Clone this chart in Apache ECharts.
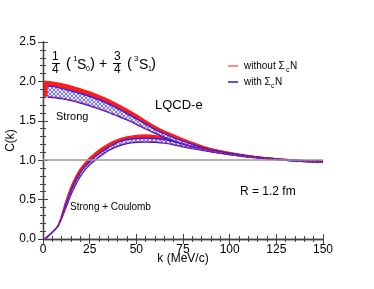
<!DOCTYPE html>
<html><head><meta charset="utf-8">
<script src="https://cdn.jsdelivr.net/npm/echarts@6/dist/echarts.min.js"></script>
<style>html,body{margin:0;padding:0;background:#fff}#c{width:374px;height:289px}</style>
</head><body><div id="c"></div>
<script>
// ---- data ----
const xTicks = [0, 25, 50, 75, 100, 125, 150];
const yTicks = [0.0, 0.5, 1.0, 1.5, 2.0, 2.5];

const kStrongRed  = [0.5, 5, 10, 15, 20, 25, 30, 35, 40, 45, 50, 55, 60, 65, 70, 75, 80, 90, 100, 110, 120, 130, 140, 150];
const strongRedHigh = [2.00, 1.99, 1.97, 1.94, 1.905, 1.866, 1.82, 1.77, 1.71, 1.645, 1.575, 1.50, 1.43, 1.37, 1.32, 1.27, 1.225, 1.145, 1.095, 1.058, 1.03, 1.01, 0.995, 0.99];
const strongRedLow  = [1.81, 1.805, 1.79, 1.765, 1.735, 1.70, 1.66, 1.615, 1.57, 1.52, 1.465, 1.405, 1.35, 1.30, 1.255, 1.215, 1.18, 1.118, 1.075, 1.045, 1.022, 1.002, 0.986, 0.972];

const kStrongBlue = [2.5, 5, 10, 15, 20, 25, 30, 35, 40, 45, 50, 55, 60, 65, 70, 75, 80, 90, 100, 110, 120, 130, 140, 150];
const strongBlueHigh = [1.94, 1.935, 1.91, 1.88, 1.845, 1.81, 1.765, 1.715, 1.655, 1.59, 1.525, 1.455, 1.39, 1.335, 1.285, 1.24, 1.20, 1.13, 1.087, 1.053, 1.027, 1.007, 0.991, 0.984];
const strongBlueLow  = [1.80, 1.795, 1.78, 1.755, 1.725, 1.69, 1.65, 1.605, 1.56, 1.51, 1.455, 1.395, 1.34, 1.29, 1.245, 1.205, 1.17, 1.11, 1.07, 1.04, 1.018, 0.998, 0.982, 0.975];

const kCoul = [1, 8, 12, 15, 18, 20, 22, 25, 28, 30, 35, 40, 45, 50, 55, 60, 65, 70, 75, 80, 90, 100, 110, 120, 130, 140, 150];
const coulRedHigh  = [0.0, 0.17, 0.46, 0.66, 0.81, 0.89, 0.95, 1.03, 1.09, 1.13, 1.205, 1.26, 1.295, 1.315, 1.32, 1.31, 1.29, 1.26, 1.225, 1.19, 1.14, 1.095, 1.058, 1.03, 1.01, 0.995, 0.99];
const coulRedLow   = [0.0, 0.165, 0.39, 0.57, 0.72, 0.80, 0.87, 0.95, 1.01, 1.05, 1.13, 1.185, 1.22, 1.235, 1.24, 1.235, 1.225, 1.205, 1.18, 1.155, 1.113, 1.075, 1.045, 1.022, 1.002, 0.986, 0.972];
const coulBlueHigh = [0.0, 0.165, 0.42, 0.61, 0.76, 0.84, 0.905, 0.98, 1.045, 1.08, 1.16, 1.225, 1.26, 1.275, 1.28, 1.275, 1.26, 1.235, 1.205, 1.175, 1.128, 1.087, 1.053, 1.027, 1.007, 0.991, 0.984];
const coulBlueLow  = [0.0, 0.16, 0.38, 0.56, 0.71, 0.79, 0.86, 0.94, 1.0, 1.04, 1.12, 1.175, 1.21, 1.225, 1.23, 1.225, 1.215, 1.195, 1.17, 1.145, 1.105, 1.07, 1.04, 1.018, 0.998, 0.982, 0.975];

const baseline = 1.0;

// ---- styling ----
const FONT = '"Liberation Sans", Arial, Helvetica, sans-serif';
const RED = '#ff1a1a', BLUE = '#1a1aff';

const pc = document.createElement('canvas'); pc.width = 4; pc.height = 4;
const g = pc.getContext('2d');
g.fillStyle = '#ececff'; g.fillRect(0, 0, 4, 4);
g.fillStyle = 'rgba(60,60,255,0.65)';
for (let i = 0; i < 4; i++) { g.fillRect(i, i, 1, 1); g.fillRect(3 - i, i, 1, 1); }
const hatch = { image: pc, repeat: 'repeat' };

// Catmull-Rom -> cubic bezier path segments through pixel points
function curvePath(pts, move) {
  let d = (move ? 'M' : 'L') + pts[0][0].toFixed(2) + ' ' + pts[0][1].toFixed(2);
  const t = 0.8;
  for (let i = 0; i < pts.length - 1; i++) {
    const p0 = pts[Math.max(i - 1, 0)], p1 = pts[i], p2 = pts[i + 1], p3 = pts[Math.min(i + 2, pts.length - 1)];
    const c1 = [p1[0] + (p2[0] - p0[0]) * t / 6, p1[1] + (p2[1] - p0[1]) * t / 6];
    const c2 = [p2[0] - (p3[0] - p1[0]) * t / 6, p2[1] - (p3[1] - p1[1]) * t / 6];
    d += ' C' + c1.map(v => v.toFixed(2)).join(' ') + ' ' + c2.map(v => v.toFixed(2)).join(' ') + ' ' + p2.map(v => v.toFixed(2)).join(' ');
  }
  return d;
}

function bandSeries(name, ks, lo, hi, opt) {
  return {
    type: 'custom', name: name, silent: true, z: opt.z,
    data: ks.map((k, i) => [k, lo[i], hi[i]]),
    encode: { x: 0, y: [1, 2] },
    renderItem: function (params, api) {
      if (params.dataIndex !== 0) return null;
      const up = ks.map((k, i) => api.coord([k, hi[i]]));
      const dn = ks.map((k, i) => api.coord([k, lo[i]]));
      const dnRev = dn.slice().reverse();
      const fillPath = curvePath(up, true) + ' ' + curvePath(dnRev, false) + ' Z';
      const children = [
        { type: 'path', shape: { pathData: fillPath }, style: { fill: opt.fill, stroke: null } },
        { type: 'path', shape: { pathData: curvePath(up, true) }, style: Object.assign({ fill: null }, opt.highLine) },
        { type: 'path', shape: { pathData: curvePath(dn, true) }, style: Object.assign({ fill: null }, opt.lowLine), z2: 5 }
      ];
      return { type: 'group', children: children };
    }
  };
}

const series = [
  bandSeries('strongRed', kStrongRed, strongRedLow, strongRedHigh, { z: 2, fill: RED,
    highLine: { stroke: RED, lineWidth: 1.4 }, lowLine: { stroke: 'rgba(0,0,0,0)', lineWidth: 0 } }),
  bandSeries('coulRed', kCoul, coulRedLow, coulRedHigh, { z: 2, fill: RED,
    highLine: { stroke: RED, lineWidth: 1.4 }, lowLine: { stroke: 'rgba(0,0,0,0)', lineWidth: 0 } }),
  bandSeries('strongBlue', kStrongBlue, strongBlueLow, strongBlueHigh, { z: 3, fill: hatch,
    highLine: { stroke: BLUE, lineWidth: 1.2 }, lowLine: { stroke: BLUE, lineWidth: 1.2 } }),
  bandSeries('coulBlue', kCoul, coulBlueLow, coulBlueHigh, { z: 3, fill: hatch,
    highLine: { stroke: BLUE, lineWidth: 1.2 }, lowLine: { stroke: BLUE, lineWidth: 1.2 } }),
  bandSeries('strongRedEdge', kStrongRed, strongRedLow, strongRedLow, { z: 4, fill: null,
    highLine: { stroke: RED, lineWidth: 1, lineDash: [3, 2] }, lowLine: { stroke: 'rgba(0,0,0,0)', lineWidth: 0 } }),
  bandSeries('coulRedEdge', kCoul, coulRedLow, coulRedLow, { z: 4, fill: null,
    highLine: { stroke: RED, lineWidth: 1, lineDash: [3, 2] }, lowLine: { stroke: 'rgba(0,0,0,0)', lineWidth: 0 } }),
  { type: 'line', data: [], z: 1, silent: true,
    markLine: { symbol: 'none', silent: true, label: { show: false }, animation: false,
      lineStyle: { color: '#999999', width: 1.5, type: 'solid' }, data: [{ yAxis: baseline }] } }
];

const axisCommon = {
  axisLine: { show: true, lineStyle: { color: '#444', width: 1.3 } },
  axisTick: { show: true, inside: true, length: 5, lineStyle: { color: '#444', width: 1 } },
  minorTick: { show: true, splitNumber: 5, length: 3, lineStyle: { color: '#444', width: 1 } },
  splitLine: { show: false }
};

const chart = echarts.init(document.getElementById('c'), null, { renderer: 'canvas' });
const T = (text, left, top, size) => ({ type: 'text', left: left, top: top, z: 100,
  style: { text: text, font: size + 'px ' + FONT, fill: '#000' } });
chart.setOption({
  animation: false,
  backgroundColor: '#fff',
  grid: { left: 43, right: 51, top: 42, bottom: 50, containLabel: false, outerBoundsMode: 'none' },
  xAxis: [
    Object.assign({ type: 'value', min: xTicks[0], max: xTicks[xTicks.length - 1], interval: 25,
      axisLabel: { color: '#000', fontSize: 12, fontFamily: FONT, margin: 5 },
      name: 'k (MeV/c)', nameLocation: 'middle', nameGap: 14, nameMoveOverlap: false,
      nameTextStyle: { color: '#000', fontSize: 12, fontFamily: FONT, verticalAlign: 'top' } }, axisCommon),
    Object.assign({ type: 'value', position: 'top', min: 0, max: 150, interval: 25, axisLabel: { show: false } }, axisCommon)
  ],
  yAxis: [
    Object.assign({ type: 'value', min: yTicks[0], max: yTicks[yTicks.length - 1], interval: 0.5,
      axisLabel: { color: '#000', fontSize: 12, fontFamily: FONT, margin: 7, formatter: v => v.toFixed(1) },
      name: 'C(k)', nameLocation: 'middle', nameGap: 26, nameMoveOverlap: false,
      nameTextStyle: { color: '#000', fontSize: 12, fontFamily: FONT } }, axisCommon),
    Object.assign({ type: 'value', position: 'right', min: 0, max: 2.5, interval: 0.5, axisLabel: { show: false } }, axisCommon)
  ],
  series: series,
  graphic: [
    T('1', 52, 51, 12), { type: 'rect', z: 100, shape: { x: 52, y: 63, width: 8, height: 1 }, style: { fill: '#000' } }, T('4', 52, 64, 12),
    T('(', 66, 56, 15), T('1', 73, 55, 8), T('S', 77, 58, 14), T('0', 86, 66, 7), T(')', 90, 56, 15),
    T('+', 99, 57, 14),
    T('3', 114, 51, 12), { type: 'rect', z: 100, shape: { x: 113, y: 63, width: 8, height: 1 }, style: { fill: '#000' } }, T('4', 114, 64, 12),
    T('(', 127, 56, 15), T('3', 134, 55, 8), T('S', 139, 58, 14), T('1', 148, 66, 7), T(')', 151, 56, 15),
    // legend
    { type: 'line', z: 100, shape: { x1: 228, y1: 66, x2: 238, y2: 66 }, style: { stroke: RED, lineWidth: 1 } },
    T('without Σ', 244, 61, 10), T('c', 286, 67, 7), T('N', 290, 61, 10),
    { type: 'line', z: 100, shape: { x1: 228, y1: 82, x2: 238, y2: 82 }, style: { stroke: BLUE, lineWidth: 1.5 } },
    T('with Σ', 244, 77, 10), T('c', 271, 83, 7), T('N', 275, 77, 10),
    // annotations
    T('LQCD-e', 155, 99, 13),
    T('Strong', 56, 111, 11),
    T('Strong + Coulomb', 70, 202, 10),
    T('R = 1.2 fm', 240, 186, 12)
  ]
});
</script></body></html>
